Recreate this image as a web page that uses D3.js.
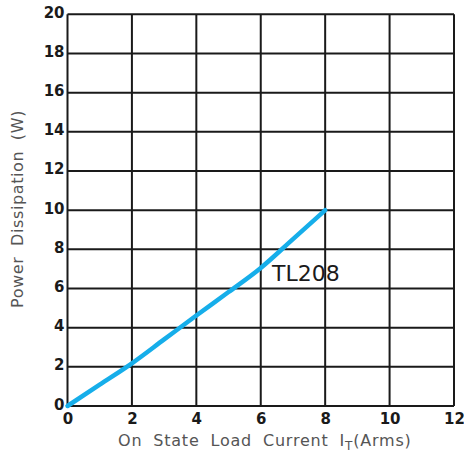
<!DOCTYPE html>
<html>
<head>
<meta charset="utf-8">
<script src="https://cdn.jsdelivr.net/npm/d3@7"></script>
<style>
html,body{margin:0;padding:0;background:#fff;}
svg{display:block;}
</style>
</head>
<body>
<svg id="chart" width="464" height="454"></svg>
<script>
const xTicks = [0, 2, 4, 6, 8, 10, 12];
const yTicks = [0, 2, 4, 6, 8, 10, 12, 14, 16, 18, 20];
const currentA = [0, 1, 2, 3, 4, 5, 6, 7, 8];
const powerW = [0, 1.09, 2.18, 3.4, 4.62, 5.82, 7.05, 8.52, 10];
const seriesLabel = "TL208";
const xTitle = "On State Load Current ";
const yTitle = "Power Dissipation (W)";

const svg = d3.select("#chart");
const L = 67.5, R = 454, T = 14.3, B = 406;
const x = d3.scaleLinear().domain([0, 12]).range([L, R]);
const y = d3.scaleLinear().domain([0, 20]).range([B, T]);

// grid
svg.append("g").selectAll("line").data(xTicks).join("line")
  .attr("x1", d => x(d)).attr("x2", d => x(d)).attr("y1", T).attr("y2", B)
  .attr("stroke", "#1a1a1a").attr("stroke-width", 2);
svg.append("g").selectAll("line").data(yTicks).join("line")
  .attr("x1", L).attr("x2", R).attr("y1", d => y(d)).attr("y2", d => y(d))
  .attr("stroke", "#1a1a1a").attr("stroke-width", 2);

// axes labels via d3 axes
const xAxis = svg.append("g").attr("transform", `translate(0,${B})`)
  .call(d3.axisBottom(x).tickValues(xTicks).tickSize(0).tickPadding(7));
const yAxis = svg.append("g").attr("transform", `translate(${L},0)`)
  .call(d3.axisLeft(y).tickValues(yTicks).tickSize(0).tickPadding(3));
[xAxis, yAxis].forEach(a => {
  a.select(".domain").remove();
  a.selectAll("text").attr("font-family", "DejaVu Sans").attr("font-weight", "bold")
    .attr("font-size", 15).attr("fill", "#1a1a1a");
});
yAxis.selectAll("text").attr("dy", "0.2em");

// curve
const pts = currentA.map((c, i) => [c, powerW[i]]);
svg.append("path").datum(pts)
  .attr("d", d3.line().x(d => x(d[0])).y(d => y(d[1])).curve(d3.curveMonotoneX))
  .attr("fill", "none").attr("stroke", "#16aeea").attr("stroke-width", 4.5)
  .attr("stroke-linecap", "round");

// series label
svg.append("text").attr("x", 272).attr("y", 281)
  .attr("font-family", "DejaVu Sans").attr("font-size", 22).attr("fill", "#1a1a1a")
  .text(seriesLabel);

// x title
const xt = svg.append("text").attr("x", 118).attr("y", 446)
  .attr("font-family", "DejaVu Sans").attr("font-size", 16).attr("fill", "#555")
  .attr("letter-spacing", 0.8).attr("word-spacing", 5);
xt.append("tspan").text(xTitle);
xt.append("tspan").text("I");
xt.append("tspan").attr("font-size", 12).attr("dy", 4).text("T");
xt.append("tspan").attr("dy", -4).text("(Arms)");

// y title
svg.append("text").attr("transform", "translate(23,209) rotate(-90)")
  .attr("text-anchor", "middle")
  .attr("font-family", "DejaVu Sans").attr("font-size", 16).attr("fill", "#555")
  .attr("letter-spacing", 0.6).attr("word-spacing", 5)
  .text(yTitle);
</script>
</body>
</html>
